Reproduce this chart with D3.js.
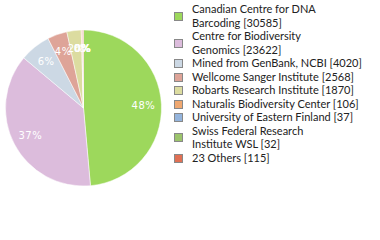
<!DOCTYPE html>
<html>
<head>
<meta charset="utf-8">
<script src="https://cdn.jsdelivr.net/npm/d3@7"></script>
<style>
  body { margin: 0; background: #fff; }
  svg { display: block; }
</style>
</head>
<body>
<div id="chart"></div>
<script>
// data
const labels = [
  ["Canadian Centre for DNA", "Barcoding [30585]"],
  ["Centre for Biodiversity", "Genomics [23622]"],
  ["Mined from GenBank, NCBI [4020]"],
  ["Wellcome Sanger Institute [2568]"],
  ["Robarts Research Institute [1870]"],
  ["Naturalis Biodiversity Center [106]"],
  ["University of Eastern Finland [37]"],
  ["Swiss Federal Research", "Institute WSL [32]"],
  ["23 Others [115]"]
];
const counts = [30585, 23622, 4020, 2568, 1870, 106, 37, 32, 115];
const colors = ["#9dd85c", "#dcbcdc", "#ccd8e4", "#dea498", "#dcdca0",
                "#f0a870", "#94b4dc", "#9cc46c", "#e07054"];

const width = 380, height = 240;
const cx = 83.5, cy = 108, radius = 78;
const labelRadius = 60;
const lineH = 13.5;

const svg = d3.select("#chart").append("svg")
    .attr("width", width)
    .attr("height", height);

const total = d3.sum(counts);
const pie = d3.pie().sort(null).value(d => d);
const arc = d3.arc().innerRadius(0).outerRadius(radius);
const labelArc = d3.arc().innerRadius(labelRadius).outerRadius(labelRadius);

const g = svg.append("g").attr("transform", `translate(${cx},${cy})`);
const arcs = pie(counts);

g.selectAll("path")
    .data(arcs)
    .enter().append("path")
    .attr("d", arc)
    .attr("fill", (d, i) => colors[i])
    .attr("stroke", "#fff")
    .attr("stroke-width", 0.5);

g.selectAll("text")
    .data(arcs)
    .enter().append("text")
    .attr("transform", d => `translate(${labelArc.centroid(d)})`)
    .attr("dy", "0.35em")
    .attr("text-anchor", "middle")
    .attr("fill", "#fff")
    .style("font-family", "DejaVu Sans")
    .style("font-size", "10px")
    .style("letter-spacing", "0.5px")
    .text(d => Math.floor(d.data / total * 100) + "%");

// legend
const legend = svg.append("g").attr("transform", "translate(174,0)");
let line = 0;
labels.forEach((lines, i) => {
  const first = 13 + line * lineH;
  const last = first + (lines.length - 1) * lineH;
  const mid = (first + last) / 2 - 4;
  legend.append("rect")
      .attr("x", 0.5)
      .attr("y", Math.round(mid - 4) + 0.5)
      .attr("width", 8)
      .attr("height", 8)
      .attr("fill", colors[i])
      .attr("stroke", "#888")
      .attr("stroke-width", 1);
  lines.forEach((t, j) => {
    legend.append("text")
        .attr("x", 18)
        .attr("y", first + j * lineH)
        .attr("fill", "#222")
        .style("font-family", "Lato")
        .style("font-size", "11px")
        .text(t);
  });
  line += lines.length;
});
</script>
</body>
</html>
